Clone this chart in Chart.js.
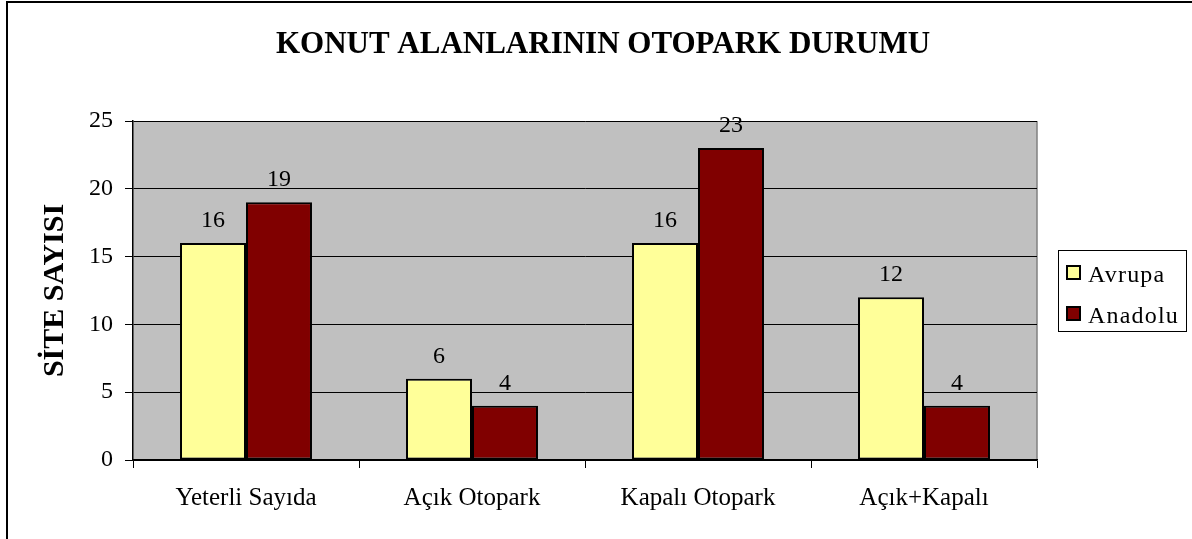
<!DOCTYPE html>
<html>
<head>
<meta charset="utf-8">
<script src="https://cdn.jsdelivr.net/npm/chart.js@4.4.0/dist/chart.umd.min.js"></script>
<style>
body { margin: 0; background: #fff; }
</style>
</head>
<body>
<canvas id="otopark" width="1192" height="539"></canvas>
<script>
var chartTitle = "KONUT ALANLARININ OTOPARK DURUMU";
var yTitle = "SİTE SAYISI";
var categories = ["Yeterli Sayıda", "Açık Otopark", "Kapalı Otopark", "Açık+Kapalı"];
var seriesNames = ["Avrupa", "Anadolu"];
var avrupa = [16, 6, 16, 12];
var anadolu = [19, 4, 23, 4];
var yTicks = [0, 5, 10, 15, 20, 25];

var serif = "'Liberation Serif', 'Times New Roman', serif";
var colors = ["#ffff99", "#800000"];

// excel style frame, plot background, value labels, title and boxed legend
var excelLook = {
    id: 'excelLook',
    beforeDraw: function (chart) {
        var c = chart.ctx, a = chart.chartArea;
        c.save();
        c.fillStyle = '#fff';
        c.fillRect(0, 0, chart.width, chart.height);
        c.fillStyle = '#000';
        c.fillRect(6, 1, chart.width - 6, 2);
        c.fillRect(6, 1, 2, chart.height - 1);
        c.fillStyle = '#c0c0c0';
        c.fillRect(a.left, a.top, a.right - a.left, a.bottom - a.top);
        c.strokeStyle = '#808080';
        c.lineWidth = 1.5;
        c.beginPath();
        c.moveTo(a.right, a.top);
        c.lineTo(a.right, a.bottom);
        c.stroke();
        c.restore();
    },
    afterDatasetsDraw: function (chart) {
        var c = chart.ctx;
        c.save();
        c.fillStyle = '#000';
        c.font = '24px ' + serif;
        c.textAlign = 'center';
        c.textBaseline = 'alphabetic';
        chart.data.datasets.forEach(function (ds, i) {
            chart.getDatasetMeta(i).data.forEach(function (bar, j) {
                c.fillText(String(ds.data[j]), bar.x, bar.y - 16);
            });
        });
        c.restore();
    },
    afterDraw: function (chart) {
        var c = chart.ctx, a = chart.chartArea;
        c.save();
        c.fillStyle = '#000';
        c.font = 'bold 31px ' + serif;
        c.textAlign = 'center';
        c.textBaseline = 'alphabetic';
        c.fillText(chartTitle, 603, 53);

        var bx = a.right + 21, bw = 128, bh = 81;
        var by = Math.round((a.top + a.bottom) / 2 - bh / 2);
        c.fillStyle = '#fff';
        c.fillRect(bx, by, bw, bh);
        c.strokeStyle = '#000';
        c.lineWidth = 1;
        c.strokeRect(bx + 0.5, by + 0.5, bw, bh);
        c.font = '24px ' + serif;
        c.letterSpacing = '1.2px';
        c.textAlign = 'left';
        chart.data.datasets.forEach(function (ds, i) {
            var sy = by + 16 + i * 41;
            c.fillStyle = ds.backgroundColor;
            c.fillRect(bx + 9, sy, 13, 13);
            c.strokeStyle = '#000';
            c.lineWidth = 2;
            c.strokeRect(bx + 9, sy, 13, 13);
            c.fillStyle = '#000';
            c.fillText(ds.label, bx + 30, sy + 16);
        });
        c.restore();
    }
};

var ctx = document.getElementById("otopark");

var otoparkChart = new Chart(ctx, {
    type: 'bar',
    data: {
        labels: categories,
        datasets: [
            {
                label: seriesNames[0],
                data: avrupa,
                backgroundColor: colors[0],
                borderColor: '#000',
                borderWidth: 2,
                borderSkipped: false,
                categoryPercentage: 0.584,
                barPercentage: 1
            },
            {
                label: seriesNames[1],
                data: anadolu,
                backgroundColor: colors[1],
                borderColor: '#000',
                borderWidth: 2,
                borderSkipped: false,
                categoryPercentage: 0.584,
                barPercentage: 1
            }
        ]
    },
    options: {
        responsive: false,
        animation: false,
        layout: { padding: { left: 30, right: 155, top: 121, bottom: 0 } },
        plugins: {
            legend: { display: false },
            title: { display: false },
            tooltip: { enabled: false }
        },
        scales: {
            x: {
                grid: { drawOnChartArea: false, color: '#000', tickLength: 8, offset: true },
                border: { color: '#000', width: 1.5 },
                ticks: { color: '#000', font: { family: serif, size: 25 }, padding: 15 },
                afterFit: function (s) { s.height = 79; }
            },
            y: {
                min: 0,
                max: 25,
                grid: { color: '#000', tickLength: 8, lineWidth: 1 },
                border: { color: '#000', width: 1.5 },
                ticks: { color: '#000', font: { family: serif, size: 24 }, padding: 12 },
                afterBuildTicks: function (s) {
                    s.ticks = yTicks.map(function (v) { return { value: v }; });
                },
                title: {
                    display: true,
                    text: yTitle,
                    color: '#000',
                    font: { family: serif, size: 30, weight: 'bold' },
                    padding: { top: 7, bottom: 0 }
                },
                afterFit: function (s) { s.width = 103; }
            }
        }
    },
    plugins: [excelLook]
});
</script>
</body>
</html>
